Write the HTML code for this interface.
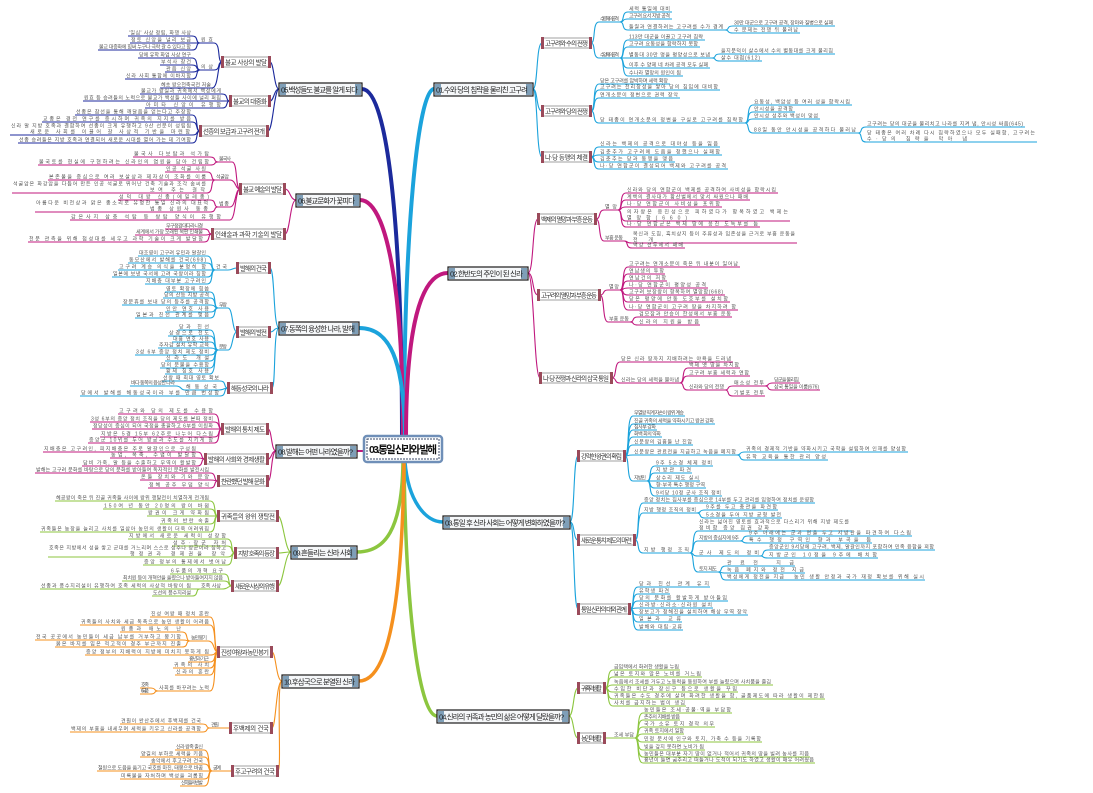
<!DOCTYPE html>
<html><head><meta charset="utf-8"><style>
html,body{margin:0;padding:0;background:#fff;}
svg{display:block;font-family:"Liberation Sans","Noto Sans CJK KR",sans-serif;}
path{fill:none;}
.b path{stroke:#1ba3dc;stroke-width:1.1}
.m path{stroke:#c0187e;stroke-width:1.1}
.n path{stroke:#1c2a9c;stroke-width:1.1}
.g path{stroke:#8cc63f;stroke-width:1.1}
.o path{stroke:#f5901e;stroke-width:1.1}
text.l{fill:#555;font-size:5px;}
.s rect.bx{fill:#fff;stroke:#8a8a8a;stroke-width:.8}
.s rect.mk{fill:#9a4a5a;}
.s text{fill:#333;font-size:6.5px;}
.mn rect.bx{fill:#f5f7f9;stroke:#1a1a1a;stroke-width:1.2}
.mn rect.mk{fill:#7f9fb8;}
.mn text{fill:#222;font-size:7.5px;}
</style></head><body>
<svg width="1093" height="793" viewBox="0 0 1093 793" xmlns="http://www.w3.org/2000/svg">

<!-- main trunks -->
<g stroke-linecap="round">
<path d="M404 437C404 230 418 89 434 89" stroke="#1ba3dc" stroke-width="4"/>
<path d="M402 437C402 230 388 89 362 89" stroke="#1c2a9c" stroke-width="4"/>
<path d="M403 437C403 280 385 200 360 200" stroke="#c0187e" stroke-width="4"/>
<path d="M405 437C404 360 390 328 359 328" stroke="#1ba3dc" stroke-width="4"/>
<path d="M406 437C406 330 420 273 448 273" stroke="#c0187e" stroke-width="4"/>
<path d="M365 451H357" stroke="#c0187e" stroke-width="2"/>
<path d="M405 462C408 500 425 522 443 522" stroke="#1ba3dc" stroke-width="3.5"/>
<path d="M404 462C406 620 420 716 437 716" stroke="#8cc63f" stroke-width="3.5"/>
<path d="M403 462C402 530 385 552 357 552" stroke="#8cc63f" stroke-width="3.5"/>
<path d="M404 462C402 620 385 681 359 681" stroke="#f5901e" stroke-width="3.5"/>
</g>

<!-- level1 -> level2 connectors -->
<g class="b"><path d="M533 89C538 89 536 43 542 43"/><path d="M533 89C538 89 536 111 542 111"/><path d="M533 89C538 89 536 157 542 157"/>
<path d="M570 522C575 522 573 456 578 456"/><path d="M570 522C575 522 573 540 578 540"/><path d="M570 522C575 522 573 609 578 609"/>
<path d="M279 328C273 328 275 268 270 268"/><path d="M279 328C273 328 275 332 270 332"/><path d="M279 328C273 328 276 388 272 388"/></g>
<g class="m"><path d="M528 273C534 273 532 219 538 219"/><path d="M528 273C534 273 532 295 538 295"/><path d="M528 273C534 273 534 378 540 378"/>
<path d="M296 200C290 200 290 189 285 189"/><path d="M296 200C290 200 290 234 285 234"/>
<path d="M276 451C271 451 272 429 268 429"/><path d="M276 451C271 451 272 459 268 459"/><path d="M276 451C271 451 272 481 268 481"/></g>
<g class="n"><path d="M279 89C274 89 274 62 270 62"/><path d="M279 89C274 89 274 101 270 101"/><path d="M279 89C274 89 273 131 268 131"/></g>
<g class="g"><path d="M569 716C574 716 573 688 578 688"/><path d="M569 716C574 716 573 738 578 738"/>
<path d="M291 552C285 552 283 516 278 516"/><path d="M291 552C285 552 283 553 278 553"/><path d="M291 552C285 552 283 586 278 586"/></g>
<g class="o"><path d="M282 681C276 681 276 652 272 652"/><path d="M282 681C276 681 276 728 272 728"/><path d="M282 681C276 681 282 771 278 771"/></g>

<!-- RIGHT BRANCH 01 -->
<g class="b">
<path d="M591 43C596 43 592 22 599 22H620"/><text class="l" x="600" y="20.5" textLength="19">수 문제의 공격</text>
<path d="M620 22C625 22 621 12 628 12H672"/><text class="l" x="629" y="10.5" textLength="41">세력 통일에 대비</text>
<path d="M620 22C625 22 621 19 628 19H672"/><text class="l" x="629" y="17.5" textLength="41">고구려 요서 지방 공격</text>
<path d="M620 22C625 22 621 30 628 30H725"/><text class="l" x="629" y="28.5" textLength="94">돌궐과 연결하려는 고구려를 수가 경계</text>
<path d="M725 30C730 30 726 26 733 26H835"/><text class="l" x="734" y="24.5" textLength="99">30만 대군으로 고구려 공격, 장마와 질병으로 실패</text>
<path d="M725 30C730 30 726 33 733 33H800"/><text class="l" x="734" y="31.5" textLength="64">수 문제는 전쟁 뒤 물러남</text>
<path d="M591 43C596 43 592 58 599 58H620"/><text class="l" x="600" y="56.5" textLength="19">수 양제의 공격</text>
<path d="M620 58C625 58 621 40 628 40H705"/><text class="l" x="629" y="38.5" textLength="74">113만 대군을 이끌고 고구려 침략</text>
<path d="M620 58C625 58 621 47 628 47H700"/><text class="l" x="629" y="45.5" textLength="69">고구려 요동성을 함락하지 못함</text>
<path d="M620 58C625 58 621 58 628 58H712"/><text class="l" x="629" y="56.5" textLength="81">별동대 30만 명을 평양성으로 보냄</text>
<path d="M620 58C625 58 621 68 628 68H710"/><text class="l" x="629" y="66.5" textLength="79">이후 수 양제 네 차례 공격 모두 실패</text>
<path d="M620 58C625 58 621 76 628 76H683"/><text class="l" x="629" y="74.5" textLength="52">수나라 멸망의 원인이 됨</text>
<path d="M712 58C717 58 713 54 720 54H835"/><text class="l" x="721" y="52.5" textLength="112">을지문덕이 살수에서 수의 별동대를 크게 물리침</text>
<path d="M712 58C717 58 713 61 720 61H762"/><text class="l" x="721" y="59.5" textLength="39">살수 대첩(612)</text>
<path d="M591 111C596 111 592 84 599 84H670"/><text class="l" x="600" y="82.5" textLength="68">당은 고구려를 압박하며 세력 확장</text>
<path d="M591 111C596 111 592 90 599 90H720"/><text class="l" x="600" y="88.5" textLength="118">고구려는 천리장성을 쌓아 당의 침입에 대비함</text>
<path d="M591 111C596 111 592 98 599 98H680"/><text class="l" x="600" y="96.5" textLength="78">연개소문이 정변으로 권력 장악</text>
<path d="M591 111C596 111 592 123 599 123H745"/><text class="l" x="600" y="121.5" textLength="143">당 태종이 연개소문의 정변을 구실로 고구려를 침략함</text>
<path d="M745 123C750 123 746 105 753 105H852"/><text class="l" x="754" y="103.5" textLength="96">요동성, 백암성 등 여러 성을 함락시킴</text>
<path d="M745 123C750 123 746 112 753 112H795"/><text class="l" x="754" y="110.5" textLength="39">안시성을 공격함</text>
<path d="M745 123C750 123 746 119 753 119H820"/><text class="l" x="754" y="117.5" textLength="64">안시성 성주와 백성이 맞섬</text>
<path d="M745 123C750 123 746 133 753 133H858"/><text class="l" x="754" y="131.5" textLength="102">88일 동안 안시성을 공격하다 물러남</text>
<path d="M858 133C863 133 859 127 866 127H1025"/><text class="l" x="867" y="125.5" textLength="156">고구려는 당의 대군을 물리치고 나라를 지켜 냄, 안시성 싸움(645)</text>
<path d="M858 133C863 133 859 142 866 142H1037"/><text class="l" x="867" y="134.5" textLength="168">당 태종은 여러 차례 다시 침략하였으나 모두 실패함, 고구려는</text><text class="l" x="867" y="140.5" textLength="100">수·당의 침략을 막아 냄</text>
<path d="M591 157C596 157 592 147 599 147H720"/><text class="l" x="600" y="145.5" textLength="118">신라는 백제의 공격으로 대야성 등을 잃음</text>
<path d="M591 157C596 157 592 155 599 155H722"/><text class="l" x="600" y="153.5" textLength="120">김춘추가 고구려에 도움을 청했으나 실패함</text>
<path d="M591 157C596 157 592 162 599 162H675"/><text class="l" x="600" y="160.5" textLength="73">김춘추는 당과 동맹을 맺음</text>
<path d="M591 157C596 157 592 169 599 169H728"/><text class="l" x="600" y="167.5" textLength="126">나·당 연합군이 결성되어 백제와 고구려를 공격</text>
</g>

<!-- RIGHT BRANCH 02 -->
<g class="m">
<path d="M596 219C601 219 598 210 604 210H618"/><text class="l" x="605" y="208.5" textLength="12">멸망</text>
<path d="M618 210C623 210 619 193 626 193H778"/><text class="l" x="627" y="191.5" textLength="149">신라와 당의 연합군이 백제를 공격하여 사비성을 함락시킴</text>
<path d="M618 210C623 210 619 200 626 200H750"/><text class="l" x="627" y="198.5" textLength="121">계백의 결사대가 황산벌에서 맞서 싸웠으나 패배</text>
<path d="M618 210C623 210 619 207 626 207H722"/><text class="l" x="627" y="205.5" textLength="93">나·당 연합군이 사비성을 포위함</text>
<path d="M618 210C623 210 619 221 626 221H790"/><text class="l" x="627" y="213.5" textLength="161">의자왕은 웅진성으로 피하였다가 항복하였고 백제는</text><text class="l" x="627" y="219.5" textLength="60">멸망함(660)</text>
<path d="M618 210C623 210 619 227 626 227H760"/><text class="l" x="627" y="225.5" textLength="131">나·당 연합군은 백제 땅에 웅진 도독부를 둠</text>
<path d="M596 219C601 219 598 241 604 241H624"/><text class="l" x="605" y="239.5" textLength="18">부흥 운동</text>
<path d="M624 241C629 241 625 243 632 243H797"/><text class="l" x="633" y="235.5" textLength="162">복신과 도침, 흑치상지 등이 주류성과 임존성을 근거로 부흥 운동을</text><text class="l" x="633" y="241.5" textLength="20">전개</text>
<path d="M624 241C629 241 625 248 632 248H685"/><text class="l" x="633" y="246.5" textLength="50">백강 전투에서 패배</text>
<path d="M600 295C605 295 602 290 608 290H620"/><text class="l" x="609" y="288.5" textLength="10">멸망</text>
<path d="M620 290C625 290 621 267 628 267H740"/><text class="l" x="629" y="265.5" textLength="109">고구려는 연개소문이 죽은 뒤 내분이 일어남</text>
<path d="M620 290C625 290 621 274 628 274H665"/><text class="l" x="629" y="272.5" textLength="35">연남생의 투항</text>
<path d="M620 290C625 290 621 281 628 281H667"/><text class="l" x="629" y="279.5" textLength="37">연남건의 저항</text>
<path d="M620 290C625 290 621 288 628 288H708"/><text class="l" x="629" y="286.5" textLength="77">나·당 연합군이 평양성 공격</text>
<path d="M620 290C625 290 621 295 628 295H725"/><text class="l" x="629" y="293.5" textLength="94">고구려 보장왕이 항복하여 멸망함(668)</text>
<path d="M620 290C625 290 621 302 628 302H730"/><text class="l" x="629" y="300.5" textLength="99">당은 평양에 안동 도호부를 설치함</text>
<path d="M620 290C625 290 621 310 628 310H738"/><text class="l" x="629" y="308.5" textLength="107">나·당 연합군이 고구려 땅을 차지하려 함</text>
<path d="M600 295C605 295 602 322 608 322H630"/><text class="l" x="609" y="320.5" textLength="20">부흥 운동</text>
<path d="M630 322C635 322 631 317 638 317H732"/><text class="l" x="639" y="315.5" textLength="92">검모잠과 안승이 한성에서 부흥 운동</text>
<path d="M630 322C635 322 631 325 638 325H700"/><text class="l" x="639" y="323.5" textLength="60">신라의 지원을 받음</text>
<path d="M612 378C617 378 614 362 620 362H733"/><text class="l" x="621" y="360.5" textLength="110">당은 신라 땅까지 지배하려는 야욕을 드러냄</text>
<path d="M612 378C617 378 614 383 620 383H680"/><text class="l" x="621" y="381.5" textLength="58">신라는 당의 세력을 몰아냄</text>
<path d="M680 383C685 383 681 368 688 368H740"/><text class="l" x="689" y="366.5" textLength="50">백제 옛 땅을 차지함</text>
<path d="M680 383C685 383 681 376 688 376H750"/><text class="l" x="689" y="374.5" textLength="60">고구려 부흥 세력과 연합</text>
<path d="M680 383C685 383 681 390 688 390H725"/><text class="l" x="689" y="388.5" textLength="35">신라와 당의 전쟁</text>
<path d="M725 390C730 390 726 386 733 386H765"/><text class="l" x="734" y="384.5" textLength="30">매소성 전투</text>
<path d="M725 390C730 390 726 396 733 396H765"/><text class="l" x="734" y="394.5" textLength="30">기벌포 전투</text>
<path d="M765 386C770 386 766 383 773 383H800"/><text class="l" x="774" y="381.5" textLength="25">당군을 물리침</text>
<path d="M765 386C770 386 766 390 773 390H820"/><text class="l" x="774" y="388.5" textLength="45">삼국 통일을 이룸(676)</text>
</g>

<!-- RIGHT BRANCH 03 -->
<g class="b">
<path d="M625 456C630 456 626 416 633 416H685"/><text class="l" x="634" y="414.5" textLength="50">무열왕 직계 자손이 왕위 계승</text>
<path d="M625 456C630 456 626 424 633 424H715"/><text class="l" x="634" y="422.5" textLength="80">진골 귀족의 세력을 약화시키고 왕권 강화</text>
<path d="M625 456C630 456 626 430 633 430H657"/><text class="l" x="634" y="428.5" textLength="22">집사부 강화</text>
<path d="M625 456C630 456 626 437 633 437H662"/><text class="l" x="634" y="435.5" textLength="27">화백 회의 약화</text>
<path d="M625 456C630 456 626 445 633 445H693"/><text class="l" x="634" y="443.5" textLength="58">신문왕의 김흠돌 난 진압</text>
<path d="M625 456C630 456 626 455 633 455H737"/><text class="l" x="634" y="453.5" textLength="102">신문왕은 관료전을 지급하고 녹읍을 폐지함</text>
<path d="M737 455C742 455 738 452 745 452H908"/><text class="l" x="746" y="450.5" textLength="160">귀족의 경제적 기반을 약화시키고 국학을 설립하여 인재를 양성함</text>
<path d="M737 455C742 455 738 460 745 460H828"/><text class="l" x="746" y="458.5" textLength="80">유학 교육을 통한 관리 양성</text>
<path d="M625 456C630 456 626 481 633 481H647"/><text class="l" x="634" y="479.5" textLength="12">지방민</text>
<path d="M647 481C652 481 648 466 655 466H713"/><text class="l" x="656" y="464.5" textLength="56">9주 5소경 체제 정비</text>
<path d="M647 481C652 481 648 473 655 473H692"/><text class="l" x="656" y="471.5" textLength="35">지방관 파견</text>
<path d="M647 481C652 481 648 481 655 481H700"/><text class="l" x="656" y="479.5" textLength="43">상수리 제도 실시</text>
<path d="M647 481C652 481 648 488 655 488H706"/><text class="l" x="656" y="486.5" textLength="49">향·부곡 특수 행정 구역</text>
<path d="M647 481C652 481 648 496 655 496H722"/><text class="l" x="656" y="494.5" textLength="65">9서당 10정 군사 조직 정비</text>
<path d="M635 540C640 540 636 503 643 503H815"/><text class="l" x="644" y="501.5" textLength="170">중앙 정치는 집사부를 중심으로 14부를 두고 관리를 임명하여 정치를 운영함</text>
<path d="M635 540C640 540 636 513 643 513H697"/><text class="l" x="644" y="511.5" textLength="52">지방 행정 조직의 정비</text>
<path d="M697 513C702 513 698 510 705 510H778"/><text class="l" x="706" y="508.5" textLength="71">9주를 두고 총관을 파견함</text>
<path d="M697 513C702 513 698 518 705 518H782"/><text class="l" x="706" y="516.5" textLength="75">5소경을 두어 지방 균형 발전</text>
<path d="M635 540C640 540 636 553 643 553H690"/><text class="l" x="644" y="551.5" textLength="45">지방 행정 조직</text>
<path d="M690 553C695 553 691 531 698 531H852"/><text class="l" x="699" y="523.5" textLength="150">신라는 넓어진 영토를 효과적으로 다스리기 위해 지방 제도를</text><text class="l" x="699" y="529.5" textLength="70">정비함 중앙 집권 강화</text>
<path d="M690 553C695 553 691 541 698 541H740"/><text class="l" x="699" y="539.5" textLength="40">지방의 중심지에 9주</text>
<path d="M740 541C745 541 741 536 748 536H912"/><text class="l" x="749" y="534.5" textLength="162">9주 아래에는 군과 현을 두고 지방관을 파견하여 다스림</text>
<path d="M740 541C745 541 741 543 748 543H872"/><text class="l" x="749" y="541.5" textLength="122">특수 행정 구역인 향과 부곡을 둠</text>
<path d="M690 553C695 553 691 556 698 556H760"/><text class="l" x="699" y="554.5" textLength="60">군사 제도의 정비</text>
<path d="M760 556C765 556 761 550 768 550H935"/><text class="l" x="769" y="548.5" textLength="165">중앙군인 9서당에 고구려, 백제, 말갈인까지 포함하여 민족 융합을 꾀함</text>
<path d="M760 556C765 556 761 558 768 558H878"/><text class="l" x="769" y="556.5" textLength="108">지방군인 10정을 9주에 배치함</text>
<path d="M690 553C695 553 691 572 698 572H718"/><text class="l" x="699" y="570.5" textLength="18">토지 제도</text>
<path d="M718 572C723 572 719 566 726 566H795"/><text class="l" x="727" y="564.5" textLength="67">관료전 지급</text>
<path d="M718 572C723 572 719 573 726 573H805"/><text class="l" x="727" y="571.5" textLength="77">녹읍 폐지와 정전 지급</text>
<path d="M718 572C723 572 719 580 726 580H785"/><text class="l" x="727" y="578.5" textLength="57">백성에게 정전을 지급</text>
<path d="M785 580C790 580 786 580 793 580H925"/><text class="l" x="794" y="578.5" textLength="130">농민 생활 안정과 국가 재정 확보를 위해 실시</text>
<path d="M630 609C635 609 631 587 638 587H710"/><text class="l" x="639" y="585.5" textLength="70">당과 친선 관계 유지</text>
<path d="M630 609C635 609 631 594 638 594H670"/><text class="l" x="639" y="592.5" textLength="30">유학생 파견</text>
<path d="M630 609C635 609 631 601 638 601H728"/><text class="l" x="639" y="599.5" textLength="88">당의 문화를 활발하게 받아들임</text>
<path d="M630 609C635 609 631 608 638 608H713"/><text class="l" x="639" y="606.5" textLength="73">신라방·신라소·신라원 설치</text>
<path d="M630 609C635 609 631 615 638 615H748"/><text class="l" x="639" y="613.5" textLength="108">장보고가 청해진을 설치하여 해상 무역 장악</text>
<path d="M630 609C635 609 631 622 638 622H682"/><text class="l" x="639" y="620.5" textLength="42">일본과 교류</text>
<path d="M630 609C635 609 631 630 638 630H683"/><text class="l" x="639" y="628.5" textLength="43">발해와 대립·교류</text>
</g>

<!-- RIGHT BRANCH 04 -->
<g class="g">
<path d="M605 688C610 688 606 670 613 670H680"/><text class="l" x="614" y="668.5" textLength="65">금입택에서 화려한 생활을 누림</text>
<path d="M605 688C610 688 606 677 613 677H702"/><text class="l" x="614" y="675.5" textLength="87">넓은 토지와 많은 노비를 거느림</text>
<path d="M605 688C610 688 606 685 613 685H773"/><text class="l" x="614" y="683.5" textLength="157">녹읍에서 조세를 거두고 노동력을 동원하여 부를 늘렸으며 사치품을 즐김</text>
<path d="M605 688C610 688 606 692 613 692H738"/><text class="l" x="614" y="690.5" textLength="123">수입한 비단과 장신구 등으로 생활을 꾸밈</text>
<path d="M605 688C610 688 606 699 613 699H825"/><text class="l" x="614" y="697.5" textLength="210">귀족들은 수도 경주에 살며 화려한 생활을 함, 골품제도에 따라 생활이 제한됨</text>
<path d="M605 688C610 688 606 706 613 706H686"/><text class="l" x="614" y="704.5" textLength="71">사치를 금지하는 법이 생김</text>
<path d="M605 738C610 738 606 738 613 738H635"/><text class="l" x="614" y="736.5" textLength="20">조세 부담</text>
<path d="M635 738C640 738 636 713 643 713H732"/><text class="l" x="644" y="711.5" textLength="87">농민들은 조세·공물·역을 부담함</text>
<path d="M635 738C640 738 636 720 643 720H680"/><text class="l" x="644" y="718.5" textLength="36">촌주의 지배를 받음</text>
<path d="M635 738C640 738 636 727 643 727H715"/><text class="l" x="644" y="725.5" textLength="70">국가 소유 토지 경작 의무</text>
<path d="M635 738C640 738 636 734 643 734H684"/><text class="l" x="644" y="732.5" textLength="40">귀족 토지에서 일함</text>
<path d="M635 738C640 738 636 742 643 742H762"/><text class="l" x="644" y="740.5" textLength="117">민정 문서에 인구와 토지, 가축 수 등을 기록함</text>
<path d="M635 738C640 738 636 750 643 750H705"/><text class="l" x="644" y="748.5" textLength="60">빚을 갚지 못하면 노비가 됨</text>
<path d="M635 738C640 738 636 757 643 757H810"/><text class="l" x="644" y="755.5" textLength="165">농민들은 대부분 자기 땅이 없거나 적어서 귀족의 땅을 빌려 농사를 지음</text>
<path d="M635 738C640 738 636 763 643 763H815"/><text class="l" x="644" y="761.5" textLength="170">흉년이 들면 굶주리고 떠돌거나 도적이 되기도 하였고 생활이 매우 어려웠음</text>
</g>

<!-- LEFT BRANCH 05 -->
<g class="n">
<path d="M222 62C217 62 221 43 214 43H200"/><text class="l" x="201" y="41.5" textLength="12">원효</text>
<path d="M200 43C195 43 199 36 192 36H128"/><text class="l" x="129" y="34.5" textLength="62">'일심' 사상 정립, 화쟁 사상</text>
<path d="M200 43C195 43 199 43 192 43H130"/><text class="l" x="131" y="41.5" textLength="60">정토 신앙을 널리 보급</text>
<path d="M200 43C195 43 199 50 192 50H98"/><text class="l" x="99" y="48.5" textLength="92">불교 대중화에 힘써 누구나 극락 갈 수 있다고 함</text>
<path d="M222 62C217 62 221 70 214 70H200"/><text class="l" x="201" y="68.5" textLength="12">의상</text>
<path d="M200 70C195 70 199 58 192 58H138"/><text class="l" x="139" y="56.5" textLength="52">당에 유학 화엄 사상 연구</text>
<path d="M200 70C195 70 199 65 192 65H160"/><text class="l" x="161" y="63.5" textLength="30">부석사 창건</text>
<path d="M200 70C195 70 199 72 192 72H165"/><text class="l" x="166" y="70.5" textLength="25">관음 신앙</text>
<path d="M200 70C195 70 199 79 192 79H125"/><text class="l" x="126" y="77.5" textLength="65">신라 사회 통합에 이바지함</text>
<path d="M222 62C217 62 219 88 212 88H160"/><text class="l" x="161" y="86.5" textLength="50">혜초 왕오천축국전 저술</text>
<path d="M230 101C225 101 229 94 222 94H140"/><text class="l" x="141" y="92.5" textLength="80">불교가 왕실과 귀족에서 백성에게</text>
<path d="M230 101C225 101 229 101 222 101H83"/><text class="l" x="84" y="99.5" textLength="137">원효 등 승려들의 노력으로 불교가 백성들 사이에 널리 퍼짐</text>
<path d="M230 101C225 101 229 108 222 108H145"/><text class="l" x="146" y="106.5" textLength="75">아미타 신앙이 유행함</text>
<path d="M200 131C195 131 199 115 192 115H75"/><text class="l" x="76" y="113.5" textLength="115">선종은 참선을 통해 깨달음을 얻는다고 주장함</text>
<path d="M200 131C195 131 199 122 192 122H42"/><text class="l" x="43" y="120.5" textLength="148">교종은 경전 연구를 중시하며 귀족의 지지를 받음</text>
<path d="M200 131C195 131 199 135 192 135H10"/><text class="l" x="11" y="127.5" textLength="180">신라 말 지방 호족과 결합하여 선종이 크게 유행하고 9산 선문이 성립됨</text><text class="l" x="30" y="133.5" textLength="160">새로운 사회를 이끌어 갈 사상적 기반을 마련함</text>
<path d="M200 131C195 131 199 143 192 143H18"/><text class="l" x="19" y="141.5" textLength="172">선종 승려들은 지방 호족과 연결되어 새로운 시대를 열어 가는 데 기여함</text>
</g>

<!-- LEFT BRANCH 06 -->
<g class="m">
<path d="M240 189C235 189 238 162 232 162H218"/><text class="l" x="219" y="160.5" textLength="12">불국사</text>
<path d="M218 162C213 162 217 157 210 157H133"/><text class="l" x="134" y="155.5" textLength="75">불국사 다보탑과 석가탑</text>
<path d="M218 162C213 162 217 165 210 165H38"/><text class="l" x="39" y="163.5" textLength="170">불국토를 현실에 구현하려는 신라인의 염원을 담아 건립함</text>
<path d="M240 189C235 189 236 180 230 180H215"/><text class="l" x="216" y="178.5" textLength="13">석굴암</text>
<path d="M215 180C210 180 214 172 207 172H165"/><text class="l" x="166" y="170.5" textLength="40">인공 석굴 사원</text>
<path d="M215 180C210 180 214 180 207 180H48"/><text class="l" x="49" y="178.5" textLength="157">본존불을 중심으로 여러 보살상과 제자상이 조화를 이룸</text>
<path d="M215 180C210 180 214 193 207 193H12"/><text class="l" x="13" y="185.5" textLength="193">석굴암은 화강암을 다듬어 만든 인공 석굴로 뛰어난 건축 기술과 조각 솜씨를</text><text class="l" x="150" y="191.5" textLength="55">보여 주는 걸작</text>
<path d="M240 189C235 189 236 207 230 207H218"/><text class="l" x="219" y="205.5" textLength="10">범종</text>
<path d="M218 207C213 207 217 200 210 200H118"/><text class="l" x="119" y="198.5" textLength="90">성덕 대왕 신종(에밀레종)</text>
<path d="M218 207C213 207 217 212 210 212H35"/><text class="l" x="36" y="204.5" textLength="172">아름다운 비천상과 맑은 종소리로 유명한 통일 신라의 대표적</text><text class="l" x="150" y="210.5" textLength="58">범종 상원사 동종</text>
<path d="M240 189C235 189 236 220 230 220H70"/><text class="l" x="71" y="218.5" textLength="150">감은사지 삼층 석탑 등 쌍탑 양식이 유행함</text>
<path d="M212 234C207 234 211 229 204 229H165"/><text class="l" x="166" y="227.5" textLength="37">무구정광대다라니경</text>
<path d="M212 234C207 234 211 235 204 235H135"/><text class="l" x="136" y="233.5" textLength="67">세계에서 가장 오래된 목판 인쇄물</text>
<path d="M212 234C207 234 211 242 204 242H28"/><text class="l" x="29" y="240.5" textLength="174">천문 관측을 위해 첨성대를 세우고 과학 기술이 크게 발달함</text>
</g>

<!-- LEFT BRANCH 07 -->
<g class="b">
<path d="M237 268C232 268 233 270 228 270H215"/><text class="l" x="216" y="268.5" textLength="11">건국</text>
<path d="M215 270C210 270 214 256 207 256H138"/><text class="l" x="139" y="254.5" textLength="67">대조영이 고구려 유민과 말갈인</text>
<path d="M215 270C210 270 214 263 207 263H128"/><text class="l" x="129" y="261.5" textLength="77">동모산에서 발해를 건국(698)</text>
<path d="M215 270C210 270 214 270 207 270H118"/><text class="l" x="119" y="268.5" textLength="87">고구려 계승 의식을 분명히 함</text>
<path d="M215 270C210 270 214 277 207 277H112"/><text class="l" x="113" y="275.5" textLength="93">일본에 보낸 국서에 고려 국왕이라 칭함</text>
<path d="M215 270C210 270 214 284 207 284H145"/><text class="l" x="146" y="282.5" textLength="60">지배층 대부분 고구려인</text>
<path d="M237 332C232 332 233 308 228 308H218"/><text class="l" x="219" y="306.5" textLength="8">무왕</text>
<path d="M218 308C213 308 217 292 210 292H165"/><text class="l" x="166" y="290.5" textLength="43">영토 확장에 힘씀</text>
<path d="M218 308C213 308 217 298 210 298H163"/><text class="l" x="164" y="296.5" textLength="45">당의 산둥 지방 공격</text>
<path d="M218 308C213 308 217 305 210 305H122"/><text class="l" x="123" y="303.5" textLength="86">장문휴를 보내 당의 등주를 공격함</text>
<path d="M218 308C213 308 217 312 210 312H165"/><text class="l" x="166" y="310.5" textLength="43">인안 연호 사용</text>
<path d="M218 308C213 308 217 318 210 318H135"/><text class="l" x="136" y="316.5" textLength="73">일본과 친선 관계를 맺음</text>
<path d="M237 332C232 332 233 350 228 350H218"/><text class="l" x="219" y="348.5" textLength="8">문왕</text>
<path d="M218 350C213 350 217 330 210 330H178"/><text class="l" x="179" y="328.5" textLength="30">당과 친선</text>
<path d="M218 350C213 350 217 336 210 336H168"/><text class="l" x="169" y="334.5" textLength="40">상경으로 천도</text>
<path d="M218 350C213 350 217 342 210 342H172"/><text class="l" x="173" y="340.5" textLength="36">대흥 연호 사용</text>
<path d="M218 350C213 350 217 348 210 348H158"/><text class="l" x="159" y="346.5" textLength="50">주자감 설치 유학 교육</text>
<path d="M218 350C213 350 217 355 210 355H135"/><text class="l" x="136" y="353.5" textLength="73">3성 6부 중앙 정치 제도 정비</text>
<path d="M218 350C213 350 217 361 210 361H165"/><text class="l" x="166" y="359.5" textLength="43">신라도 개설</text>
<path d="M218 350C213 350 217 368 210 368H160"/><text class="l" x="161" y="366.5" textLength="48">당의 문물을 수용함</text>
<path d="M218 350C213 350 217 374 210 374H165"/><text class="l" x="166" y="372.5" textLength="43">황제 칭호 사용</text>
<path d="M228 388C223 388 227 381 220 381H162"/><text class="l" x="163" y="379.5" textLength="56">선왕 때 최대 영토 확보</text>
<path d="M228 388C223 388 225 390 218 390H185"/><text class="l" x="186" y="388.5" textLength="31">해동성국</text>
<path d="M185 390C180 390 182 386 176 386H130"/><text class="l" x="131" y="384.5" textLength="44">바다 동쪽의 융성한 나라</text>
<path d="M228 388C223 388 227 396 220 396H80"/><text class="l" x="81" y="394.5" textLength="138">당에서 발해를 해동성국이라 부를 만큼 번성함</text>
</g>

<!-- LEFT BRANCH 08 -->
<g class="m">
<path d="M222 429C217 429 221 414 214 414H118"/><text class="l" x="119" y="412.5" textLength="94">고구려와 당의 제도를 수용함</text>
<path d="M222 429C217 429 221 422 214 422H90"/><text class="l" x="91" y="420.5" textLength="122">3성 6부의 중앙 정치 조직을 당의 제도를 본떠 정비</text>
<path d="M222 429C217 429 221 429 214 429H92"/><text class="l" x="93" y="427.5" textLength="120">정당성이 중심이 되어 국정을 총괄하고 6부를 이원화</text>
<path d="M222 429C217 429 221 437 214 437H100"/><text class="l" x="101" y="435.5" textLength="112">지방은 5경 15부 62주로 나누어 다스림</text>
<path d="M222 429C217 429 221 443 214 443H88"/><text class="l" x="89" y="441.5" textLength="124">중앙군 10위를 두어 왕궁과 수도를 지키게 함</text>
<path d="M205 459C200 459 204 452 197 452H43"/><text class="l" x="44" y="450.5" textLength="152">지배층은 고구려인, 피지배층은 주로 말갈인으로 구성됨</text>
<path d="M205 459C200 459 204 458 197 458H110"/><text class="l" x="111" y="456.5" textLength="85">농업, 목축, 수렵이 발달함</text>
<path d="M205 459C200 459 204 466 197 466H82"/><text class="l" x="83" y="464.5" textLength="113">담비 가죽, 말 등을 수출하고 무역이 활발함</text>
<path d="M218 481C213 481 217 473 210 473H35"/><text class="l" x="36" y="471.5" textLength="173">발해는 고구려 문화를 바탕으로 당의 문화를 받아들여 독자적인 문화를 발전시킴</text>
<path d="M218 481C213 481 217 480 210 480H140"/><text class="l" x="141" y="478.5" textLength="68">온돌 장치와 기와 문양</text>
<path d="M218 481C213 481 217 488 210 488H148"/><text class="l" x="149" y="486.5" textLength="60">정혜 공주 무덤 양식</text>
</g>

<!-- LEFT BRANCH 09 -->
<g class="g">
<path d="M218 516C213 516 217 501 210 501H55"/><text class="l" x="56" y="499.5" textLength="153">혜공왕이 죽은 뒤 진골 귀족들 사이에 왕위 쟁탈전이 치열하게 전개됨</text>
<path d="M218 516C213 516 217 509 210 509H103"/><text class="l" x="104" y="507.5" textLength="105">150여 년 동안 20명의 왕이 바뀜</text>
<path d="M218 516C213 516 217 516 210 516H147"/><text class="l" x="148" y="514.5" textLength="61">왕권이 크게 약화됨</text>
<path d="M218 516C213 516 217 524 210 524H160"/><text class="l" x="161" y="522.5" textLength="48">귀족의 반란 속출</text>
<path d="M218 516C213 516 217 532 210 532H40"/><text class="l" x="41" y="530.5" textLength="168">귀족들은 농장을 늘리고 사치를 일삼아 농민의 생활이 더욱 어려워짐</text>
<path d="M235 553C230 553 234 539 227 539H128"/><text class="l" x="129" y="537.5" textLength="97">지방에서 새로운 세력이 성장함</text>
<path d="M235 553C230 553 234 546 227 546H172"/><text class="l" x="173" y="544.5" textLength="53">성주·장군 자처</text>
<path d="M235 553C230 553 234 557 227 557H48"/><text class="l" x="49" y="549.5" textLength="177">호족은 지방에서 성을 쌓고 군대를 거느리며 스스로 성주나 장군이라 칭하고</text><text class="l" x="130" y="555.5" textLength="95">행정권과 경제권을 장악</text>
<path d="M235 553C230 553 234 565 227 565H143"/><text class="l" x="144" y="563.5" textLength="82">중앙 정부의 통제에서 벗어남</text>
<path d="M232 586C227 586 231 574 224 574H170"/><text class="l" x="171" y="572.5" textLength="52">6두품의 개혁 요구</text>
<path d="M232 586C227 586 231 581 224 581H122"/><text class="l" x="123" y="579.5" textLength="100">최치원 등이 개혁안을 올렸으나 받아들여지지 않음</text>
<path d="M232 586C227 586 229 589 222 589H200"/><text class="l" x="201" y="587.5" textLength="20">호족 사상</text>
<path d="M200 589C195 589 199 589 192 589H40"/><text class="l" x="41" y="587.5" textLength="150">선종과 풍수지리설이 유행하여 호족 세력의 사상적 바탕이 됨</text>
<path d="M200 589C195 589 199 596 192 596H152"/><text class="l" x="153" y="594.5" textLength="38">도선의 풍수지리설</text>
</g>

<!-- LEFT BRANCH 10 -->
<g class="o">
<path d="M218 652C213 652 217 617 210 617H150"/><text class="l" x="151" y="615.5" textLength="58">진성 여왕 때 정치 혼란</text>
<path d="M218 652C213 652 217 625 210 625H80"/><text class="l" x="81" y="623.5" textLength="128">귀족들의 사치와 세금 독촉으로 농민 생활이 어려움</text>
<path d="M218 652C213 652 215 641 208 641H190"/><text class="l" x="191" y="639.5" textLength="16">농민 봉기</text>
<path d="M190 641C185 641 189 632 182 632H120"/><text class="l" x="121" y="630.5" textLength="60">원종과 애노의 난</text>
<path d="M190 641C185 641 189 640 182 640H35"/><text class="l" x="36" y="638.5" textLength="145">전국 곳곳에서 농민들이 세금 납부를 거부하고 봉기함</text>
<path d="M190 641C185 641 189 647 182 647H55"/><text class="l" x="56" y="645.5" textLength="125">붉은 바지를 입은 적고적이 경주 부근까지 진출</text>
<path d="M218 652C213 652 217 655 210 655H85"/><text class="l" x="86" y="653.5" textLength="123">중앙 정부의 지배력이 지방에 미치지 못하게 됨</text>
<path d="M218 652C213 652 217 662 210 662H188"/><text class="l" x="189" y="660.5" textLength="20">흉년과 기근</text>
<path d="M218 652C213 652 217 668 210 668H173"/><text class="l" x="174" y="666.5" textLength="35">귀족의 사치</text>
<path d="M218 652C213 652 217 675 210 675H175"/><text class="l" x="176" y="673.5" textLength="33">신라의 혼란</text>
<path d="M218 652C213 652 217 691 210 691H158"/><text class="l" x="159" y="689.5" textLength="50">사회를 바꾸려는 노력</text>
<path d="M158 691C153 691 157 688 150 688H140"/><text class="l" x="141" y="686.5" textLength="8">호족</text>
<path d="M158 691C153 691 157 694 150 694H140"/><text class="l" x="141" y="692.5" textLength="8">6두품</text>
<path d="M230 728C225 728 227 728 220 728H210"/><text class="l" x="211" y="726.5" textLength="8">견훤</text>
<path d="M210 728C205 728 209 724 202 724H120"/><text class="l" x="121" y="722.5" textLength="80">견훤이 완산주에서 후백제를 건국</text>
<path d="M210 728C205 728 209 732 202 732H70"/><text class="l" x="71" y="730.5" textLength="130">백제의 부흥을 내세우며 세력을 키우고 신라를 공격함</text>
<path d="M232 771C227 771 227 771 220 771H212"/><text class="l" x="213" y="769.5" textLength="8">궁예</text>
<path d="M212 771C207 771 211 750 204 750H175"/><text class="l" x="176" y="748.5" textLength="27">신라 왕족 출신</text>
<path d="M212 771C207 771 211 757 204 757H140"/><text class="l" x="141" y="755.5" textLength="62">양길의 부하로 세력을 키움</text>
<path d="M212 771C207 771 211 764 204 764H150"/><text class="l" x="151" y="762.5" textLength="52">송악에서 후고구려 건국</text>
<path d="M212 771C207 771 211 771 204 771H97"/><text class="l" x="98" y="769.5" textLength="105">철원으로 도읍을 옮기고 국호를 마진, 태봉으로 바꿈</text>
<path d="M212 771C207 771 211 779 204 779H120"/><text class="l" x="121" y="777.5" textLength="82">미륵불을 자처하며 백성을 괴롭힘</text>
<path d="M212 771C207 771 211 786 204 786H180"/><text class="l" x="181" y="784.5" textLength="22">신하들의 반발</text>
</g>

<!-- level2 boxes -->
<g class="s">
<g><rect class="bx" x="542" y="38" width="49" height="10"/><rect class="mk" x="541" y="37" width="3" height="12"/><rect class="mk" x="589" y="37" width="3" height="12"/><text x="545" y="45.5" textLength="43">고구려와 수의 전쟁</text></g>
<g><rect class="bx" x="542" y="106" width="49" height="10"/><rect class="mk" x="541" y="105" width="3" height="12"/><rect class="mk" x="589" y="105" width="3" height="12"/><text x="545" y="113.5" textLength="43">고구려와 당의 전쟁</text></g>
<g><rect class="bx" x="542" y="152" width="49" height="10"/><rect class="mk" x="541" y="151" width="3" height="12"/><rect class="mk" x="589" y="151" width="3" height="12"/><text x="545" y="159.5" textLength="43">나·당 동맹의 체결</text></g>
<g><rect class="bx" x="538" y="214" width="58" height="10"/><rect class="mk" x="537" y="213" width="3" height="12"/><rect class="mk" x="594" y="213" width="3" height="12"/><text x="541" y="221.5" textLength="52">백제의 멸망과 부흥 운동</text></g>
<g><rect class="bx" x="538" y="290" width="62" height="10"/><rect class="mk" x="537" y="289" width="3" height="12"/><rect class="mk" x="598" y="289" width="3" height="12"/><text x="541" y="297.5" textLength="56">고구려의 멸망과 부흥 운동</text></g>
<g><rect class="bx" x="540" y="373" width="72" height="10"/><rect class="mk" x="539" y="372" width="3" height="12"/><rect class="mk" x="610" y="372" width="3" height="12"/><text x="543" y="380.5" textLength="66">나·당 전쟁과 신라의 삼국 통일</text></g>
<g><rect class="bx" x="578" y="451" width="47" height="10"/><rect class="mk" x="577" y="450" width="3" height="12"/><rect class="mk" x="623" y="450" width="3" height="12"/><text x="581" y="458.5" textLength="41">강력한 왕권의 확립</text></g>
<g><rect class="bx" x="578" y="535" width="57" height="10"/><rect class="mk" x="577" y="534" width="3" height="12"/><rect class="mk" x="633" y="534" width="3" height="12"/><text x="581" y="542.5" textLength="51">새로운 통치 제도의 마련</text></g>
<g><rect class="bx" x="578" y="604" width="52" height="10"/><rect class="mk" x="577" y="603" width="3" height="12"/><rect class="mk" x="628" y="603" width="3" height="12"/><text x="581" y="611.5" textLength="46">통일 신라의 대외 관계</text></g>
<g><rect class="bx" x="578" y="683" width="27" height="10"/><rect class="mk" x="577" y="682" width="3" height="12"/><rect class="mk" x="603" y="682" width="3" height="12"/><text x="581" y="690.5" textLength="21">귀족의 생활</text></g>
<g><rect class="bx" x="578" y="733" width="27" height="10"/><rect class="mk" x="577" y="732" width="3" height="12"/><rect class="mk" x="603" y="732" width="3" height="12"/><text x="581" y="740.5" textLength="21">농민의 생활</text></g>
<g><rect class="bx" x="222" y="57" width="48" height="10"/><rect class="mk" x="221" y="56" width="3" height="12"/><rect class="mk" x="268" y="56" width="3" height="12"/><text x="225" y="64.5" textLength="42">불교 사상의 발달</text></g>
<g><rect class="bx" x="230" y="96" width="40" height="10"/><rect class="mk" x="229" y="95" width="3" height="12"/><rect class="mk" x="268" y="95" width="3" height="12"/><text x="233" y="103.5" textLength="34">불교의 대중화</text></g>
<g><rect class="bx" x="200" y="126" width="68" height="10"/><rect class="mk" x="199" y="125" width="3" height="12"/><rect class="mk" x="266" y="125" width="3" height="12"/><text x="203" y="133.5" textLength="62">선종의 보급과 고구려 전개</text></g>
<g><rect class="bx" x="240" y="184" width="45" height="10"/><rect class="mk" x="239" y="183" width="3" height="12"/><rect class="mk" x="283" y="183" width="3" height="12"/><text x="243" y="191.5" textLength="39">불교 예술의 발달</text></g>
<g><rect class="bx" x="212" y="229" width="73" height="10"/><rect class="mk" x="211" y="228" width="3" height="12"/><rect class="mk" x="283" y="228" width="3" height="12"/><text x="215" y="236.5" textLength="67">인쇄술과 과학 기술의 발달</text></g>
<g><rect class="bx" x="237" y="263" width="33" height="10"/><rect class="mk" x="236" y="262" width="3" height="12"/><rect class="mk" x="268" y="262" width="3" height="12"/><text x="240" y="270.5" textLength="27">발해의 건국</text></g>
<g><rect class="bx" x="237" y="327" width="33" height="10"/><rect class="mk" x="236" y="326" width="3" height="12"/><rect class="mk" x="268" y="326" width="3" height="12"/><text x="240" y="334.5" textLength="27">발해의 발전</text></g>
<g><rect class="bx" x="228" y="383" width="44" height="10"/><rect class="mk" x="227" y="382" width="3" height="12"/><rect class="mk" x="270" y="382" width="3" height="12"/><text x="231" y="390.5" textLength="38">해동성국의 나라</text></g>
<g><rect class="bx" x="222" y="424" width="46" height="10"/><rect class="mk" x="221" y="423" width="3" height="12"/><rect class="mk" x="266" y="423" width="3" height="12"/><text x="225" y="431.5" textLength="40">발해의 통치 제도</text></g>
<g><rect class="bx" x="205" y="454" width="63" height="10"/><rect class="mk" x="204" y="453" width="3" height="12"/><rect class="mk" x="266" y="453" width="3" height="12"/><text x="208" y="461.5" textLength="57">발해의 사회와 경제생활</text></g>
<g><rect class="bx" x="218" y="476" width="50" height="10"/><rect class="mk" x="217" y="475" width="3" height="12"/><rect class="mk" x="266" y="475" width="3" height="12"/><text x="221" y="483.5" textLength="44">찬란했던 발해 문화</text></g>
<g><rect class="bx" x="218" y="511" width="60" height="10"/><rect class="mk" x="217" y="510" width="3" height="12"/><rect class="mk" x="276" y="510" width="3" height="12"/><text x="221" y="518.5" textLength="54">귀족들의 왕위 쟁탈전</text></g>
<g><rect class="bx" x="235" y="548" width="43" height="10"/><rect class="mk" x="234" y="547" width="3" height="12"/><rect class="mk" x="276" y="547" width="3" height="12"/><text x="238" y="555.5" textLength="37">지방 호족의 등장</text></g>
<g><rect class="bx" x="232" y="581" width="46" height="10"/><rect class="mk" x="231" y="580" width="3" height="12"/><rect class="mk" x="276" y="580" width="3" height="12"/><text x="235" y="588.5" textLength="40">새로운 사상의 유행</text></g>
<g><rect class="bx" x="218" y="647" width="54" height="10"/><rect class="mk" x="217" y="646" width="3" height="12"/><rect class="mk" x="270" y="646" width="3" height="12"/><text x="221" y="654.5" textLength="48">진성 여왕과 농민 봉기</text></g>
<g><rect class="bx" x="230" y="723" width="42" height="10"/><rect class="mk" x="229" y="722" width="3" height="12"/><rect class="mk" x="270" y="722" width="3" height="12"/><text x="233" y="730.5" textLength="36">후백제의 건국</text></g>
<g><rect class="bx" x="232" y="766" width="46" height="10"/><rect class="mk" x="231" y="765" width="3" height="12"/><rect class="mk" x="276" y="765" width="3" height="12"/><text x="235" y="773.5" textLength="40">후고구려의 건국</text></g>
</g>

<!-- level1 boxes -->
<g class="mn">
<g><rect class="bx" x="434" y="83" width="99" height="13"/><rect class="mk" x="435" y="84" width="6" height="11"/><rect class="mk" x="526" y="84" width="6" height="11"/><text x="436" y="92.5" textLength="92">01.수와 당의 침략을 물리친 고구려</text></g>
<g><rect class="bx" x="448" y="267" width="80" height="13"/><rect class="mk" x="449" y="268" width="6" height="11"/><rect class="mk" x="521" y="268" width="6" height="11"/><text x="450" y="276.5" textLength="73">02.한반도의 주인이 된 신라</text></g>
<g><rect class="bx" x="443" y="516" width="127" height="13"/><rect class="mk" x="444" y="517" width="6" height="11"/><rect class="mk" x="563" y="517" width="6" height="11"/><text x="445" y="525.5" textLength="120">03.통일 후 신라 사회는 어떻게 변화하였을까?</text></g>
<g><rect class="bx" x="437" y="710" width="132" height="13"/><rect class="mk" x="438" y="711" width="6" height="11"/><rect class="mk" x="562" y="711" width="6" height="11"/><text x="439" y="719.5" textLength="125">04.신라의 귀족과 농민의 삶은 어떻게 달랐을까?</text></g>
<g><rect class="bx" x="279" y="83" width="83" height="13"/><rect class="mk" x="280" y="84" width="6" height="11"/><rect class="mk" x="355" y="84" width="6" height="11"/><text x="281" y="92.5" textLength="77">05.백성들도 불교를 알게 되다</text></g>
<g><rect class="bx" x="296" y="194" width="64" height="13"/><rect class="mk" x="297" y="195" width="6" height="11"/><rect class="mk" x="353" y="195" width="6" height="11"/><text x="298" y="203.5" textLength="57">06.불교문화가 꽃피다</text></g>
<g><rect class="bx" x="279" y="322" width="80" height="13"/><rect class="mk" x="280" y="323" width="6" height="11"/><rect class="mk" x="352" y="323" width="6" height="11"/><text x="281" y="331.5" textLength="74">07.동쪽의 융성한 나라, 발해</text></g>
<g><rect class="bx" x="276" y="445" width="81" height="13"/><rect class="mk" x="277" y="446" width="6" height="11"/><rect class="mk" x="350" y="446" width="6" height="11"/><text x="278" y="454.5" textLength="75">08.발해는 어떤 나라였을까?</text></g>
<g><rect class="bx" x="291" y="546" width="66" height="13"/><rect class="mk" x="292" y="547" width="6" height="11"/><rect class="mk" x="350" y="547" width="6" height="11"/><text x="293" y="555.5" textLength="60">09.흔들리는 신라 사회</text></g>
<g><rect class="bx" x="282" y="675" width="77" height="13"/><rect class="mk" x="283" y="676" width="6" height="11"/><rect class="mk" x="352" y="676" width="6" height="11"/><text x="284" y="684.5" textLength="71">10.후삼국으로 분열된 신라</text></g>
</g>

<!-- center -->
<rect x="364" y="436" width="78" height="26" rx="3" fill="#fff" stroke="#6f8fb8" stroke-width="2.5"/>
<rect x="367" y="439" width="72" height="20" fill="#fff" stroke="#3a4a6a" stroke-width="1" stroke-dasharray="2 1"/>
<text x="369" y="453" font-size="10.5" font-weight="bold" fill="#111" textLength="68">03.통일 신라와 발해</text>
</svg>
</body></html>
